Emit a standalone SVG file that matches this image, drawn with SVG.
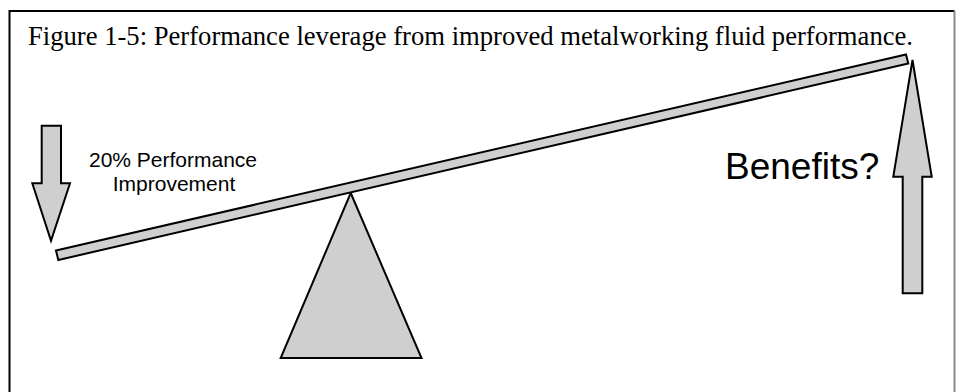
<svg xmlns="http://www.w3.org/2000/svg" width="956" height="392" viewBox="0 0 956 392">
<style>
.shape{fill:#cfcfcf;stroke:#000;stroke-width:2;stroke-linejoin:miter}
.title{font-family:"Liberation Serif","Times New Roman",serif;font-size:27px;fill:#000}
.lbl{font-family:"Liberation Sans",Arial,sans-serif;fill:#000}
</style>
<rect x="0" y="0" width="956" height="392" fill="#fff"/>
<g id="frame">
<path d="M9.5,392 V11 H954.5" fill="none" stroke="#000" stroke-width="2"/>
<path d="M954.5,11 V392" fill="none" stroke="#888" stroke-width="2"/>
</g>
<text id="title" class="title" x="28" y="45" textLength="885" lengthAdjust="spacingAndGlyphs">Figure 1-5: Performance leverage from improved metalworking fluid performance.</text>
<g id="fulcrum">
<polygon class="shape" points="350.7,193 421.5,358 280.7,358"/>
</g>
<g id="lever">
<polygon class="shape" points="56,250.5 906,54.5 908.3,63.5 58.3,260"/>
</g>
<g id="input-arrow">
<polygon class="shape" points="41.7,125.7 61,125.7 61,183.3 70,183.3 51,240.7 32.3,183.3 41.7,183.3"/>
<text class="lbl" font-size="21" text-anchor="middle" x="173" y="167">20% Performance</text>
<text class="lbl" font-size="21" text-anchor="middle" x="174" y="191">Improvement</text>
</g>
<g id="benefit-arrow">
<polygon class="shape" points="912.5,60 931.7,176.7 922.3,176.7 922.3,293.3 902.7,293.3 902.7,176.7 893.3,176.7"/>
<text class="lbl" font-size="37" x="725" y="179">Benefits?</text>
</g>
</svg>
